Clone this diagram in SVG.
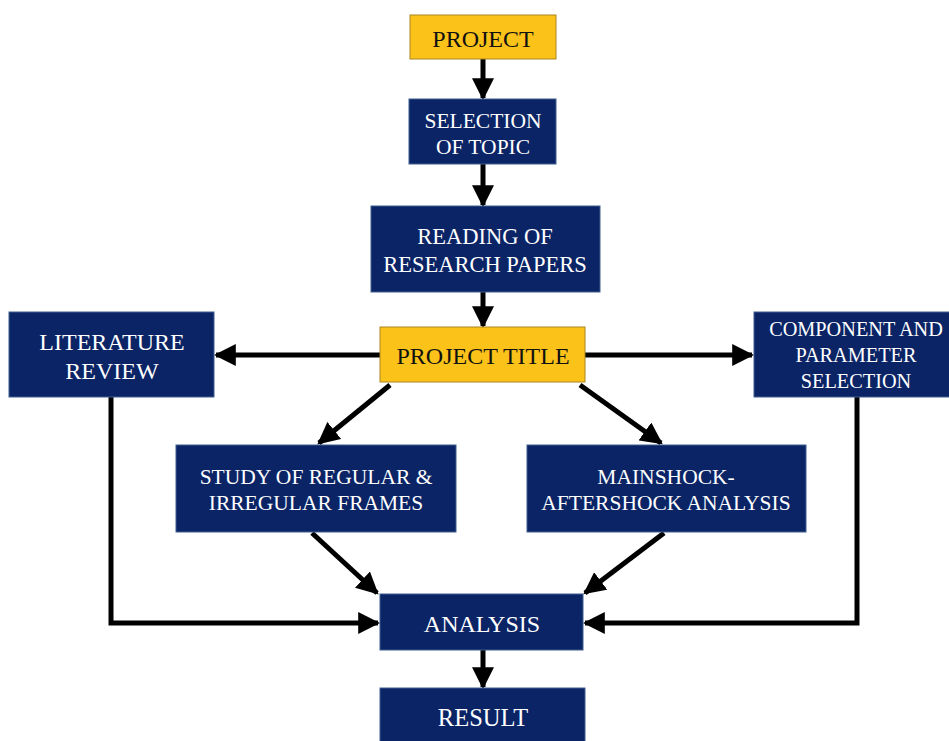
<svg xmlns="http://www.w3.org/2000/svg" width="949" height="741" viewBox="0 0 949 741">
<style>
.b{fill:#0a2466;stroke:#3f5f8f;stroke-width:1}
.y{fill:#fbc21a;stroke:#a88520;stroke-width:1}
.t{font-family:"Liberation Serif","Times New Roman",serif;font-size:20px;fill:#ffffff;text-anchor:middle}
.k{fill:#111111}
.c{stroke:#000;stroke-width:5;fill:none}
</style>
<defs>
<marker id="ah" viewBox="0 0 10 10" refX="9" refY="5" markerWidth="4.4" markerHeight="4.4" orient="auto" markerUnits="strokeWidth">
<path d="M0,0 L10,5 L0,10 z" fill="#000"/>
</marker>
</defs>
<rect width="949" height="741" fill="#fff"/>
<g id="connectors">
<path class="c" d="M483,59 V98" marker-end="url(#ah)"/>
<path class="c" d="M483,164 V205" marker-end="url(#ah)"/>
<path class="c" d="M483,292 V326" marker-end="url(#ah)"/>
<path class="c" d="M380,355 H216" marker-end="url(#ah)"/>
<path class="c" d="M585,355 H752" marker-end="url(#ah)"/>
<path class="c" d="M390,385 L319,443" marker-end="url(#ah)"/>
<path class="c" d="M580,385 L661,443" marker-end="url(#ah)"/>
<path class="c" d="M312,533 L377,593" marker-end="url(#ah)"/>
<path class="c" d="M664,533 L585,593" marker-end="url(#ah)"/>
<path class="c" d="M111,397 V623 H378" marker-end="url(#ah)"/>
<path class="c" d="M857,397 V623 H585" marker-end="url(#ah)"/>
<path class="c" d="M483,650 V687" marker-end="url(#ah)"/>
</g>
<g id="project"><rect class="y" x="410" y="15" width="146" height="44"/><text class="t k" x="483" y="47" style="font-size:24px">PROJECT</text></g>
<g id="selection"><rect class="b" x="409" y="99" width="147" height="65"/><g class="t" style="font-size:21.5px"><text x="483" y="128">SELECTION</text><text x="483" y="154">OF TOPIC</text></g></g>
<g id="reading"><rect class="b" x="371" y="206" width="229" height="86"/><g class="t" style="font-size:22.5px"><text x="485" y="244">READING OF</text><text x="485" y="272">RESEARCH PAPERS</text></g></g>
<g id="title"><rect class="y" x="380" y="327" width="205" height="55"/><text class="t k" x="483" y="364" style="font-size:24px">PROJECT TITLE</text></g>
<g id="literature"><rect class="b" x="9" y="312" width="205" height="85"/><g class="t" style="font-size:24px"><text x="112" y="350">LITERATURE</text><text x="112" y="379">REVIEW</text></g></g>
<g id="component"><rect class="b" x="754" y="312" width="200" height="85"/><g class="t" style="font-size:20.3px"><text x="856" y="336">COMPONENT AND</text><text x="856" y="362">PARAMETER</text><text x="856" y="388">SELECTION</text></g></g>
<g id="study"><rect class="b" x="176" y="445" width="280" height="87"/><g class="t" style="font-size:21.5px"><text x="316" y="484">STUDY OF REGULAR &amp;</text><text x="316" y="510">IRREGULAR FRAMES</text></g></g>
<g id="mainshock"><rect class="b" x="527" y="445" width="279" height="87"/><g class="t" style="font-size:21.5px"><text x="666" y="484">MAINSHOCK-</text><text x="666" y="510">AFTERSHOCK ANALYSIS</text></g></g>
<g id="analysis"><rect class="b" x="380" y="594" width="203" height="56"/><text class="t" x="482" y="632" style="font-size:24px">ANALYSIS</text></g>
<g id="result"><rect class="b" x="380" y="688" width="205" height="60"/><text class="t" x="483" y="726" style="font-size:24.5px">RESULT</text></g>
</svg>
